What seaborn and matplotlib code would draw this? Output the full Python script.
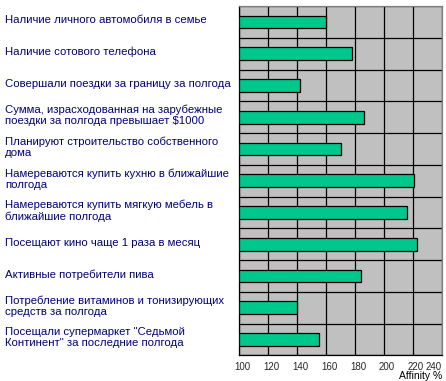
import matplotlib
matplotlib.use('Agg')
import matplotlib.pyplot as plt
import matplotlib.transforms as mtransforms
import seaborn as sns
import pandas as pd

categories = [
    'Наличие личного автомобиля в семье',
    'Наличие сотового телефона',
    'Совершали поездки за границу за полгода',
    'Сумма, израсходованная на зарубежные\nпоездки за полгода превышает $1000',
    'Планируют строительство собственного\nдома',
    'Намереваются купить кухню в ближайшие\nполгода',
    'Намереваются купить мягкую мебель в\nближайшие полгода',
    'Посещают кино чаще 1 раза в месяц',
    'Активные потребители пива',
    'Потребление витаминов и тонизирующих\nсредств за полгода',
    'Посещали супермаркет "Седьмой\nКонтинент" за последние полгода',
]
affinity = [160, 178, 142, 186, 170, 221, 216, 223, 184, 140, 155]
x_ticks = [100, 120, 140, 160, 180, 200, 220, 240]

sns.set_style('white')
plt.rcParams['font.family'] = ['Liberation Sans', 'DejaVu Sans']

df = pd.DataFrame({'cat': categories, 'val': affinity})

fig = plt.figure(figsize=(4.46, 3.81), dpi=100)
ax = fig.add_axes([0.5366, 0.0675, 0.991 - 0.5366, 0.984 - 0.0675])
ax.set_facecolor('#c0c0c0')

sns.barplot(data=df, x='val', y='cat', orient='h', color='#00c78c',
            edgecolor='black', linewidth=0.9, width=0.4, saturation=1, ax=ax)

ax.set_xlim(100, 240)
ax.set_ylim(len(categories) - 0.5, -0.5)
ax.set_xticks(x_ticks)
ax.set_xticklabels([str(t) for t in x_ticks], fontsize=7)
bounds = [i - 0.5 for i in range(len(categories) + 1)]
ax.set_yticks(bounds)
ax.set_yticklabels([])
ax.tick_params(axis='both', direction='out', length=3, width=0.8, color='black', pad=1.5)
ax.set_axisbelow(True)
ax.grid(True, color='black', linewidth=0.9)
ax.set_xlabel('')
ax.set_ylabel('')

# x tick labels sit a little right of the grid lines, last one kept inside
shift = mtransforms.ScaledTranslation(3 / 100, 0, fig.dpi_scale_trans)
xlabels = ax.get_xticklabels()
for lbl in xlabels[:-1]:
    lbl.set_transform(lbl.get_transform() + shift)
xlabels[-1].set_horizontalalignment('right')

for side in ['left', 'bottom']:
    ax.spines[side].set_color('black')
    ax.spines[side].set_linewidth(0.9)
for side in ['top', 'right']:
    ax.spines[side].set_visible(True)
    ax.spines[side].set_color('#808080')
    ax.spines[side].set_linewidth(0.9)

trans = mtransforms.blended_transform_factory(fig.transFigure, ax.transData)
for i, lab in enumerate(categories):
    ax.text(5 / 446, i - 0.05, lab, transform=trans, ha='left', va='center',
            fontsize=8.2, color='#000080', linespacing=1.15, clip_on=False)

fig.text(442 / 446, 5 / 381, 'Affinity %', ha='right', va='center', fontsize=7.5, color='black')

fig.savefig('out.png', dpi=100)
